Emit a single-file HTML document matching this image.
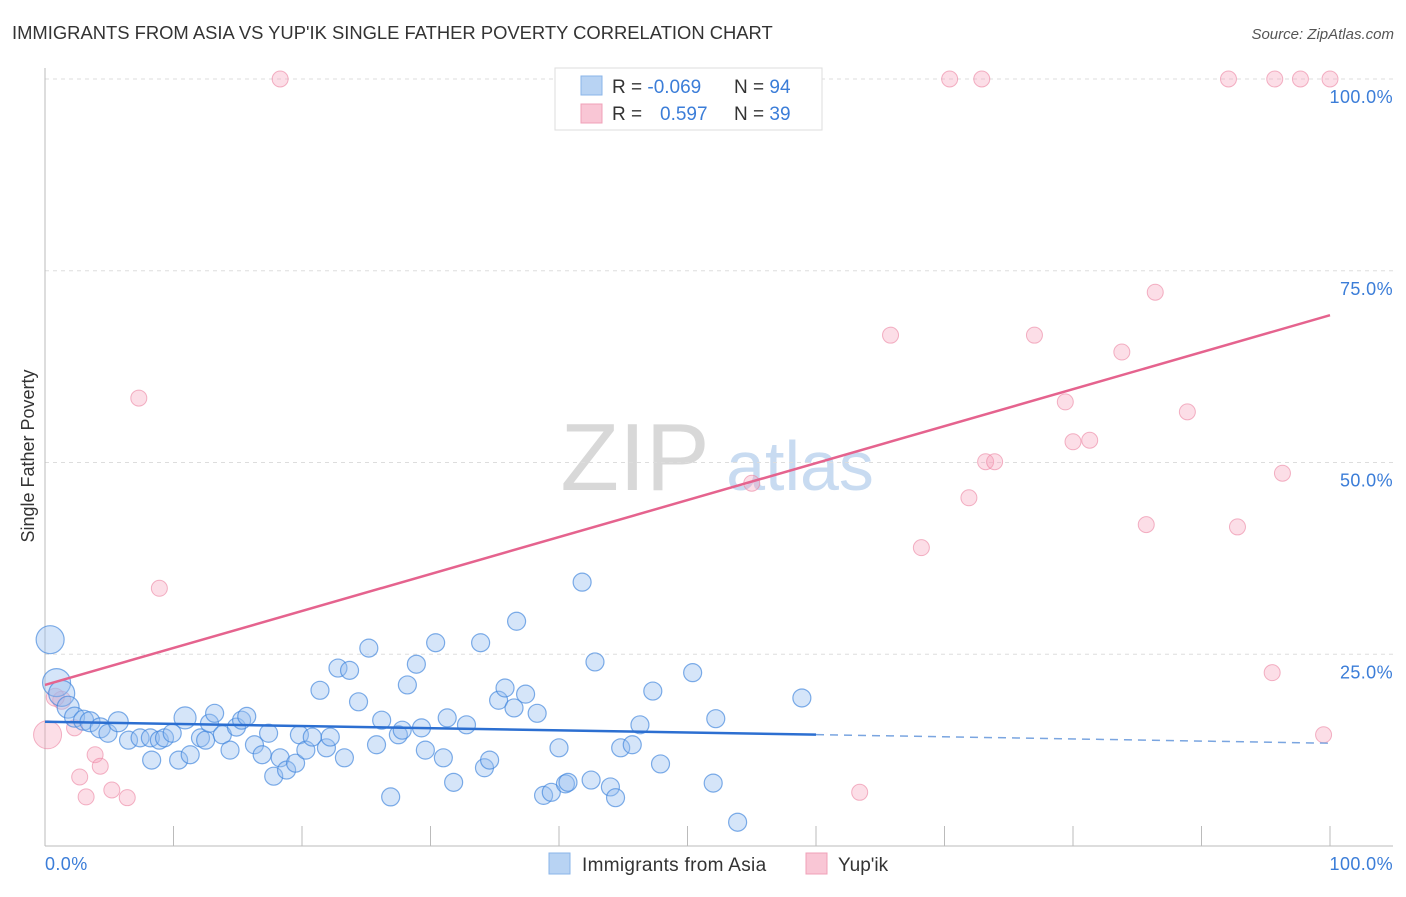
<!DOCTYPE html>
<html><head><meta charset="utf-8"><style>
body{margin:0;background:#fff;font-family:"Liberation Sans",sans-serif;}
svg text{font-family:"Liberation Sans",sans-serif;}
</style></head><body>
<svg id="chart" width="1406" height="892" viewBox="0 0 1406 892" xmlns="http://www.w3.org/2000/svg">
<text x="12" y="39" font-size="18.4" fill="#333">IMMIGRANTS FROM ASIA VS YUP'IK SINGLE FATHER POVERTY CORRELATION CHART</text>
<text x="1394" y="39" font-size="15" fill="#555" font-style="italic" text-anchor="end">Source: ZipAtlas.com</text>
<text x="34" y="456" font-size="18" fill="#333" transform="rotate(-90 34 456)" text-anchor="middle">Single Father Poverty</text>
<g>
<text x="635" y="490" font-size="96" fill="#d8d8d8" font-family="Liberation Serif" text-anchor="middle">ZIP</text>
<text x="800" y="490" font-size="70" fill="#c8dbf1" text-anchor="middle">atlas</text>
</g>
<g id="grid"></g>
<g id="axes"></g>
<g id="marks"></g>
<g>
<rect x="555" y="68" width="267" height="62" fill="#fff" stroke="#ddd"/>
<rect x="581" y="76" width="21" height="19" fill="#b8d3f3" stroke="#8ab4e8"/>
<rect x="581" y="104" width="21" height="19" fill="#f9c6d5" stroke="#f0a0b8"/>
<text x="612" y="93" font-size="19" fill="#333">R = <tspan fill="#3b7dd8">-0.069</tspan></text>
<text x="734" y="93" font-size="19" fill="#333">N = <tspan fill="#3b7dd8">94</tspan></text>
<text x="612" y="120" font-size="19" fill="#333">R = <tspan fill="#3b7dd8" x="660">0.597</tspan></text>
<text x="734" y="120" font-size="19" fill="#333">N = <tspan fill="#3b7dd8">39</tspan></text>
</g>
<g>
<rect x="549" y="853" width="21" height="21" fill="#b8d3f3" stroke="#8ab4e8"/>
<text x="582" y="871" font-size="19" fill="#333" letter-spacing="0.3">Immigrants from Asia</text>
<rect x="806" y="853" width="21" height="21" fill="#f9c6d5" stroke="#f0a0b8"/>
<text x="838" y="871" font-size="19" fill="#333">Yup'ik</text>
</g>
</svg>
<script>
const blueX=[0.4,0.9,1.3,1.8,2.3,3.0,3.5,4.3,4.9,5.7,6.5,7.4,8.2,8.3,8.9,9.3,9.9,10.4,10.9,11.3,12.1,12.5,12.8,13.2,13.8,14.4,14.9,15.3,15.7,16.3,16.9,17.4,17.8,18.3,18.8,19.5,19.8,20.3,20.8,21.4,21.9,22.2,22.8,23.3,23.7,24.4,25.2,25.8,26.2,26.9,27.5,27.8,28.2,28.9,29.3,29.6,30.4,31.0,31.3,31.8,32.8,33.9,34.2,34.6,35.3,35.8,36.5,36.7,37.4,38.3,38.8,39.4,40.0,40.5,40.7,41.8,42.5,42.8,44.0,44.4,44.8,45.7,46.3,47.3,47.9,50.4,52.2,52.0,53.9,58.9];
const blueY=[26.9,21.3,19.9,18.1,16.8,16.4,16.2,15.4,14.7,16.2,13.8,14.1,14.1,11.2,13.8,14.1,14.7,11.2,16.7,11.9,14.1,13.8,16.0,17.3,14.5,12.5,15.5,16.4,16.9,13.2,11.9,14.7,9.1,11.5,9.9,10.8,14.5,12.5,14.2,20.3,12.8,14.2,23.2,11.5,22.9,18.8,25.8,13.2,16.4,6.4,14.5,15.1,21.0,23.7,15.4,12.5,26.5,11.5,16.7,8.3,15.8,26.5,10.2,11.2,19.0,20.6,18.0,29.3,19.8,17.3,6.6,7.0,12.8,8.1,8.3,34.4,8.6,24.0,7.7,6.3,12.8,13.2,15.8,20.2,10.7,22.6,16.6,8.2,3.1,19.3];
const blueSize=[14,14,13,11,10,10,10,10,9,10,9,9,9,9,9,9,9,9,11,9,9,9,9,9,9,9,9,9,9,9,9,9,9,9,9,9,9,9,9,9,9,9,9,9,9,9,9,9,9,9,9,9,9,9,9,9,9,9,9,9,9,9,9,9,9,9,9,9,9,9,9,9,9,9,9,9,9,9,9,9,9,9,9,9,9,9,9,9,9,9];
const pinkX=[18.3,70.4,72.9,92.1,95.7,97.7,100,7.3,8.9,0.2,1.3,2.3,2.7,3.2,3.9,4.3,5.2,6.4,65.8,77.0,86.4,83.8,79.4,88.9,80.0,81.3,73.2,73.9,55.0,71.9,96.3,85.7,92.8,68.2,95.5,99.5,63.4,0.8];
const pinkY=[100,100,100,100,100,100,100,58.4,33.6,14.5,19.0,15.4,9.0,6.4,11.9,10.4,7.3,6.3,66.6,66.6,72.2,64.4,57.9,56.6,52.7,52.9,50.1,50.1,47.3,45.4,48.6,41.9,41.6,38.9,22.6,14.5,7.0,19.4];
const pinkSize=[8,8,8,8,8,8,8,8,8,14,9,8,8,8,8,8,8,8,8,8,8,8,8,8,8,8,8,8,8,8,8,8,8,8,8,8,8,9];
const blueTrend=[16.2,13.4];
const pinkTrend=[21.0,69.2];
const yTicks=[25,50,75,100];
const yTickLabels=["25.0%","50.0%","75.0%","100.0%"];
const xTicks=[0,10,20,30,40,50,60,70,80,90,100];

const NS="http://www.w3.org/2000/svg";
const sx=v=>45+v*12.85;
const sy=v=>846-v*7.67;
function mk(tag,attrs,parent){const e=document.createElementNS(NS,tag);for(const k in attrs)e.setAttribute(k,attrs[k]);parent.appendChild(e);return e;}
const grid=document.getElementById('grid'),axes=document.getElementById('axes'),marks=document.getElementById('marks');
yTicks.forEach((t,i)=>{
 const l=mk('line',{x1:45,x2:1393,y1:sy(t),y2:sy(t),stroke:'#ddd','stroke-dasharray':'4,4'},grid);
 
 
 const tx=mk('text',{x:1393,y:sy(t)+24,'font-size':18,fill:'#3b7dd8','text-anchor':'end','letter-spacing':'0.4'},axes);
 tx.textContent=yTickLabels[i];
 
 
});
const ax=mk('line',{x1:45,x2:45,y1:68,y2:846,stroke:'#bbb'},axes);


const bx=mk('line',{x1:45,x2:1393,y1:846,y2:846,stroke:'#bbb'},axes);


xTicks.forEach(t=>{
 const l=mk('line',{x1:sx(t),x2:sx(t),y1:826,y2:846,stroke:'#bbb'},axes);
 
 
});
const xl0=mk('text',{x:45,y:870,'font-size':18,fill:'#3b7dd8','letter-spacing':'0.4'},axes);xl0.textContent='0.0%';


const xl1=mk('text',{x:1393,y:870,'font-size':18,fill:'#3b7dd8','text-anchor':'end','letter-spacing':'0.4'},axes);xl1.textContent='100.0%';



pinkX.forEach((x,i)=>{
 const c=mk('circle',{cx:sx(x),cy:sy(pinkY[i]),r:pinkSize[i],fill:'rgba(245,160,185,0.35)',stroke:'rgba(235,130,160,0.6)','stroke-width':1},marks);
 
 
});
blueX.forEach((x,i)=>{
 const c=mk('circle',{cx:sx(x),cy:sy(blueY[i]),r:blueSize[i],fill:'rgba(150,190,240,0.4)',stroke:'rgba(60,130,220,0.65)','stroke-width':1.2},marks);
 
 
});
const bt=v=>blueTrend[0]+(blueTrend[1]-blueTrend[0])*v/100;
const l1=mk('line',{x1:sx(0),y1:sy(bt(0)),x2:sx(60),y2:sy(bt(60)),stroke:'#2c6fd1','stroke-width':2.5},marks);


const l2=mk('line',{x1:sx(60),y1:sy(bt(60)),x2:sx(100),y2:sy(bt(100)),stroke:'#7aa5e0','stroke-width':1.5,'stroke-dasharray':'8,6'},marks);


const l3=mk('line',{x1:sx(0),y1:sy(pinkTrend[0]),x2:sx(100),y2:sy(pinkTrend[1]),stroke:'#e5638e','stroke-width':2.5},marks);


</script>
</body></html>
